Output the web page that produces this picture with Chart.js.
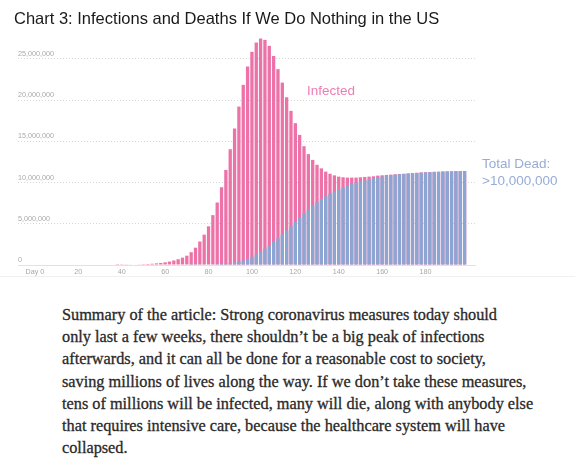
<!DOCTYPE html>
<html>
<head>
<meta charset="utf-8">
<script src="https://cdn.jsdelivr.net/npm/chart.js@4.4.1/dist/chart.umd.min.js"></script>
<style>
  html, body { margin: 0; padding: 0; background: #fff; }
  body { width: 575px; height: 465px; position: relative; overflow: hidden; }
  .c-title { position: absolute; left: 14px; top: 9px; font: 16.5px "Liberation Sans", Arial, sans-serif; color: #1a1a1a; white-space: nowrap; }
  .c-wrap { position: absolute; left: 0; top: 0; width: 575px; height: 290px; }
  .c-rule { position: absolute; left: 0; top: 276px; width: 575px; height: 1px; background: #f0f0f0; }
  .c-note { position: absolute; font: 13.5px/17px "Liberation Sans", Arial, sans-serif; white-space: nowrap; }
  .summary { position: absolute; left: 62px; top: 304px; font: 16.3px/22.2px "Liberation Serif", serif; color: #292929; white-space: nowrap; -webkit-text-stroke: 0.3px #292929; }
</style>
</head>
<body>
<div class="c-rule"></div>
<div class="c-wrap"><canvas id="chart" width="575" height="290"></canvas></div>
<div class="c-title">Chart 3: Infections and Deaths If We Do Nothing in the US</div>
<div class="c-note" style="left:307px; top:82px; color:#ef7cb5;">Infected</div>
<div class="c-note" style="left:482px; top:155px; color:#98acd8;">Total Dead:<br>&gt;10,000,000</div>
<div class="summary">
Summary of the article: Strong coronavirus measures today should<br>
only last a few weeks, there shouldn’t be a big peak of infections<br>
afterwards, and it can all be done for a reasonable cost to society,<br>
saving millions of lives along the way. If we don’t take these measures,<br>
tens of millions will be infected, many will die, along with anybody else<br>
that requires intensive care, because the healthcare system will have<br>
collapsed.
</div>
<script>
// one bar every 2 days
var days = [
    0,   2,   4,   6,   8,  10,  12,  14,  16,  18,
   20,  22,  24,  26,  28,  30,  32,  34,  36,  38,
   40,  42,  44,  46,  48,  50,  52,  54,  56,  58,
   60,  62,  64,  66,  68,  70,  72,  74,  76,  78,
   80,  82,  84,  86,  88,  90,  92,  94,  96,  98,
  100, 102, 104, 106, 108, 110, 112, 114, 116, 118,
  120, 122, 124, 126, 128, 130, 132, 134, 136, 138,
  140, 142, 144, 146, 148, 150, 152, 154, 156, 158,
  160, 162, 164, 166, 168, 170, 172, 174, 176, 178,
  180, 182, 184, 186, 188, 190, 192, 194, 196, 198
];

// millions of people, top of the pink bar
var infected = [
  0, 0, 0, 0, 0, 0, 0, 0, 0, 0,
  0, 0, 0, 0, 0, 0, 0, 0, 0, 0.02,
  0.03, 0.04, 0.05, 0.06, 0.08, 0.1, 0.12, 0.15, 0.2, 0.25,
  0.33, 0.42, 0.55, 0.7, 0.89, 1.13, 1.55, 2.1, 2.85, 3.68,
  4.69, 6.05, 7.58, 9.43, 11.53, 14.04, 16.54, 19.21, 21.84, 24.07,
  25.85, 26.98, 27.46, 27.3, 26.58, 25.36, 23.75, 22.12, 20.35, 18.69,
  17.2, 15.78, 14.4, 13.45, 12.75, 12.15, 11.72, 11.32, 11.07, 10.87,
  10.72, 10.64, 10.6, 10.6, 10.6, 10.64, 10.68, 10.72, 10.76, 10.84,
  10.88, 10.92, 10.96, 11.0, 11.03, 11.07, 11.11, 11.15, 11.19, 11.23,
  11.26, 11.27, 11.31, 11.32, 11.35, 11.36, 11.37, 11.39, 11.39, 11.4
];

// millions, cumulative dead (blue)
var dead = [
  0, 0, 0, 0, 0, 0, 0, 0, 0, 0,
  0, 0, 0, 0, 0, 0, 0, 0, 0, 0,
  0, 0, 0, 0, 0, 0, 0, 0, 0, 0,
  0, 0, 0, 0, 0, 0, 0.01, 0.02, 0.03, 0.04,
  0.05, 0.07, 0.1, 0.13, 0.17, 0.22, 0.3, 0.4, 0.55, 0.75,
  1.0, 1.3, 1.62, 1.98, 2.38, 2.8, 3.25, 3.72, 4.2, 4.7,
  5.2, 5.75, 6.3, 6.75, 7.2, 7.62, 8.0, 8.35, 8.65, 8.93,
  9.18, 9.38, 9.62, 9.82, 9.99, 10.11, 10.27, 10.4, 10.52, 10.64,
  10.72, 10.8, 10.88, 10.96, 11.0, 11.04, 11.08, 11.12, 11.16, 11.2,
  11.23, 11.24, 11.28, 11.29, 11.32, 11.33, 11.34, 11.36, 11.36, 11.37
];

var xTicks = [0, 20, 40, 60, 80, 100, 120, 140, 160, 180];
var yTicks = [0, 5, 10, 15, 20, 25];

function points(values) {
    return days.map(function (d, i) { return { x: d, y: values[i] }; });
}

var tickFont = { family: '"Liberation Sans", Arial, sans-serif', size: 7.2 };

new Chart(document.getElementById('chart'), {
    type: 'bar',
    data: {
        datasets: [
            {
                label: 'Total dead',
                data: points(dead),
                backgroundColor: '#8ca6d3',
                grouped: false,
                borderWidth: 0,
                barPercentage: 0.76,
                categoryPercentage: 1
            },
            {
                label: 'Infected',
                data: points(infected),
                backgroundColor: '#ec72a8',
                grouped: false,
                borderWidth: 0,
                barPercentage: 0.76,
                categoryPercentage: 1
            }
        ]
    },
    options: {
        responsive: false,
        animation: false,
        devicePixelRatio: 1,
        layout: { padding: { left: 18, top: 30, right: 100, bottom: 13 } },
        plugins: {
            legend: { display: false },
            tooltip: { enabled: false }
        },
        scales: {
            x: {
                type: 'linear',
                offset: false,
                min: -7.8,
                max: 202.8,
                afterBuildTicks: function (axis) {
                    axis.ticks = xTicks.map(function (v) { return { value: v }; });
                },
                afterFit: function (axis) { axis.height = 12; },
                grid: { display: false, drawTicks: false },
                border: { display: true, color: '#e2e2e2', width: 1 },
                ticks: {
                    autoSkip: false,
                    maxRotation: 0,
                    padding: 3,
                    color: '#a8a8a8',
                    font: tickFont,
                    callback: function (v) { return v === 0 ? 'Day 0' : v; }
                }
            },
            y: {
                min: 0,
                max: 28.5,
                afterBuildTicks: function (axis) {
                    axis.ticks = yTicks.map(function (v) { return { value: v }; });
                },
                afterFit: function (axis) { axis.width = 0; },
                grid: { color: '#d6d6d6', drawTicks: false },
                border: { display: false, dash: [1, 2] },
                ticks: {
                    mirror: true,
                    padding: 0,
                    labelOffset: -5,
                    color: '#a8a8a8',
                    font: tickFont,
                    callback: function (v) { return (v * 1000000).toLocaleString('en-US'); }
                }
            }
        }
    }
});
</script>
</body>
</html>
